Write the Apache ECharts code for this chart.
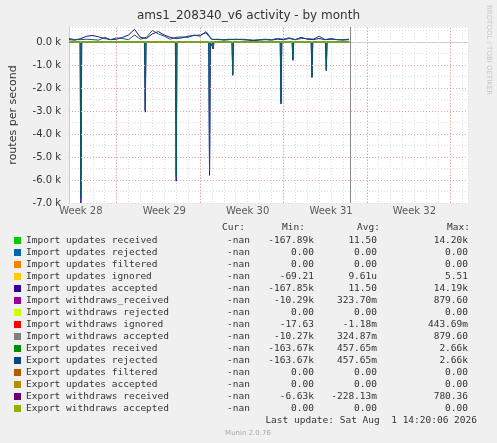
<!DOCTYPE html><html><head><meta charset="utf-8">
<script src="https://cdn.jsdelivr.net/npm/echarts@6/dist/echarts.min.js"></script>
<style>html,body{margin:0;background:#f0f0f0}#c{width:497px;height:443px}</style></head><body><div id="c"></div>
<script>
const weekLabels=['Week 28','Week 29','Week 30','Week 31','Week 32'];
const weekDays=[1,8,15,22,29];
const step=0.5;
const blueVals=[0.1,0.08,0.15,0.25,0.28,0.22,0.15,0.1,0.12,0.2,0.3,0.55,0.2,0.15,0.35,0.45,0.3,0.2,0.15,0.18,0.25,0.28,0.3,0.4,0.1,0.12,0.08,0.1,0.12,0.1,0.08,0.06,0.08,0.1,0.08,0.12,0.1,0.15,0.1,0.2,0.12,0.1,0.15,0.1,0.12,0.1,0.08,0.1];
const tealVals=[0.15,0.1,0.1,0.12,0.1,0.08,0.2,0.1,0.18,0.15,0.1,0.3,0.12,0.2,0.5,0.35,0.25,0.12,0.2,0.22,0.2,0.3,0.25,0.45,0.12,0.1,0.1,0.12,0.1,0.12,0.1,0.08,0.1,0.12,0.1,0.15,0.12,0.18,0.1,0.15,0.15,0.12,0.25,0.1,0.15,0.1,0.1,0.12];
const spikeDays=[1.0,6.4,9.0,11.8,12.1,13.75,17.8,18.8,20.4,21.6];
const spikeVals=[-7.0,-3.05,-6.05,-5.8,-0.3,-1.45,-2.7,-0.8,-1.55,-1.25];
const names=['Import updates received','Import updates rejected','Import updates filtered','Import updates ignored','Import updates accepted','Import withdraws_received','Import withdraws rejected','Import withdraws ignored','Import withdraws accepted','Export updates received','Export updates rejected','Export updates filtered','Export updates accepted','Export withdraws received','Export withdraws accepted'];
const colors=['#00cc00','#0066b3','#ff8000','#ffcc00','#330099','#990099','#ccff00','#ff0000','#808080','#008f00','#00487d','#b35a00','#b38f00','#6b006b','#8fb300'];
const curV=Array(15).fill('-nan');
const minV=['-167.89k','0.00','0.00','-69.21','-167.85k','-10.29k','0.00','-17.63','-10.27k','-163.67k','-163.67k','0.00','0.00','-6.63k','0.00'];
const avgV=['11.50','0.00','0.00','9.61u','11.50','323.70m','0.00','-1.18m','324.87m','457.65m','457.65m','0.00','0.00','-228.13m','0.00'];
const maxV=['14.20k','0.00','0.00','5.51','14.19k','879.60','0.00','443.69m','879.60','2.66k','2.66k','0.00','0.00','780.36','0.00'];

function line(vals){return vals.map((v,i)=>[i*step,v*1000]);}
function spikes(sp,w){const pts=[[0,0]];
 spikeDays.forEach((d,j)=>{pts.push([d-w,0]);pts.push([d,spikeVals[j]*1000*sp]);pts.push([d+w,0]);});
 pts.push([23.5,0]);return pts;}
const endDay=23.6;
const ch=echarts.init(document.getElementById('c'));
const mono='DejaVu Sans Mono';
const g=[];
g.push({type:'text',x:492,y:5,rotation:-Math.PI/2,style:{text:'RRDTOOL / TOBI OETIKER',fill:'#c8c8c8',font:'7px DejaVu Sans'}});
const hx=[245,305,380,470];const vx=[250,314,377,468];
['Cur:','Min:','Avg:','Max:'].forEach((t,i)=>g.push({type:'text',x:hx[i],y:223,style:{text:t,font:'9.5px '+mono,fill:'#333',align:'right'}}));
names.forEach((n,i)=>{const y=236+i*12;
 g.push({type:'rect',shape:{x:14,y:y+1,width:7,height:7},style:{fill:colors[i]}});
 g.push({type:'text',x:26,y:y,style:{text:n,font:'9.5px '+mono,fill:'#333'}});
 [curV[i],minV[i],avgV[i],maxV[i]].forEach((t,k)=>g.push({type:'text',x:vx[k],y:y,style:{text:t,font:'9.5px '+mono,fill:'#333',align:'right'}}));});
g.push({type:'text',x:477,y:416,style:{text:'Last update: Sat Aug  1 14:20:06 2026',font:'9.5px '+mono,fill:'#333',align:'right'}});
g.push({type:'text',x:248,y:430,style:{text:'Munin 2.0.76',font:'7px DejaVu Sans',fill:'#aaa',align:'center'}});
ch.setOption({animation:false,backgroundColor:'#f0f0f0',
 title:{text:'ams1_208340_v6 activity - by month',left:'center',top:5,textStyle:{fontFamily:'DejaVu Sans',fontSize:12,fontWeight:'normal',color:'#333'}},
 grid:{left:67,right:29,top:27,bottom:240,backgroundColor:'#fff',show:true,borderWidth:0},
 xAxis:{type:'value',min:0,max:33.5,interval:1,
  axisLine:{lineStyle:{color:'#ccd'}},axisTick:{show:false},axisLabel:{show:false},
  splitLine:{lineStyle:{color:'#ddd',type:[1,2]}}},
 yAxis:{type:'value',min:-7000,max:650,interval:500,name:'routes per second',nameLocation:'middle',nameGap:50,nameTextStyle:{fontFamily:'DejaVu Sans',fontSize:11,color:'#333'},
  axisLine:{show:true,lineStyle:{color:'#ccd'}},axisTick:{show:false},
  axisLabel:{fontFamily:'DejaVu Sans',fontSize:10,color:'#333',formatter:v=>v%1000===0?(v/1000).toFixed(1)+' k':'',showMaxLabel:false},
  splitLine:{lineStyle:{color:'#ddd',type:[1,2]}}},
 series:[
  {type:'line',data:spikes(1,0.07),symbol:'none',lineStyle:{width:1,color:'#330099'},z:3},
  {type:'line',data:spikes(0.97,0.06),symbol:'none',lineStyle:{width:1,color:'#005f66'},areaStyle:{color:'#1a7a70',opacity:0.8,origin:0},z:4},
  {type:'line',data:line(blueVals),symbol:'none',lineStyle:{width:1,color:'#330099'},z:3},
  {type:'line',data:line(tealVals),symbol:'none',lineStyle:{width:1,color:'#005f66'},z:4},
  {type:'line',data:[[0,0],[endDay,0]],symbol:'none',lineStyle:{width:1.5,color:'#8fb300'},z:5},
  {type:'line',data:[],symbol:'none',z:6,markLine:{silent:true,symbol:'none',label:{show:false},data:
   [{xAxis:endDay,lineStyle:{color:'#888',type:'solid',width:1}}].concat([4,11,18,25,32].map(d=>({xAxis:d,lineStyle:{color:'#f3a0a0',type:[1,2],width:1}})))
   .concat([1000,2000,3000,4000,5000,6000].map(v=>({yAxis:-v,lineStyle:{color:'#f3a0a0',type:[1,2],width:1}})))}},
  {type:'scatter',data:weekDays.map((d,i)=>[d,-7000,weekLabels[i]]),symbolSize:0,label:{show:true,position:'bottom',distance:3,formatter:p=>p.data[2],fontFamily:'DejaVu Sans',fontSize:10,color:'#333'}}
 ],
 graphic:g});
</script></body></html>
